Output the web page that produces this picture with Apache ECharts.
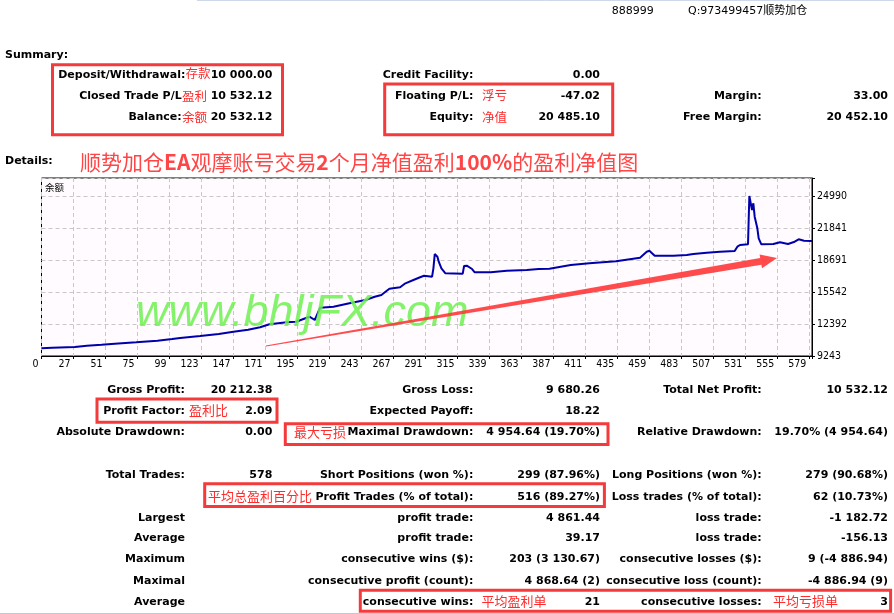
<!DOCTYPE html>
<html><head><meta charset="utf-8">
<script src="https://cdn.jsdelivr.net/npm/echarts@6/dist/echarts.min.js"></script>
<style>html,body{margin:0;padding:0;background:#fff;} #c{width:894px;height:614px;}</style>
</head><body><div id="c"></div>
<script>
// ---- chart data ----
const tradeNo = [3, 11, 28, 37, 48, 58, 74, 90, 101, 107, 122, 136, 147, 158, 167, 174, 187, 194, 204, 208,
  212, 222, 234, 246, 253, 258, 262, 264, 272, 276, 282, 287, 290, 296, 297, 298, 300, 301, 303, 306,
  319, 320, 322, 326, 328, 340, 352, 367, 376, 384, 400, 414, 434, 452, 457, 459, 463, 477, 487, 492,
  502, 512, 523, 525, 527, 533, 534, 535, 536, 537, 538, 540, 541, 543, 552, 557, 563, 568, 571, 575, 581];
const equity = [10000, 10060, 10129, 10257, 10355, 10454, 10591, 10749, 10916, 11015, 11211, 11408, 11635, 11831, 12068, 12363, 12560, 12619, 13111, 12786,
  13997, 14095, 14430, 14755, 15079, 15247, 15670, 15867, 16004, 16398, 16723, 16989, 17146, 17048, 17874, 19282, 19016, 18524, 17874, 17382,
  17343, 18101, 18130, 17805, 17481, 17481, 17638, 17707, 17805, 17835, 18199, 18366, 18563, 18918, 19508, 19607, 19115, 19115, 19184, 19282,
  19410, 19508, 19577, 20000, 20168, 20237, 24990, 24800, 23613, 24271, 22953, 21811, 20827, 20237, 20266, 20434, 20266, 20492, 20729, 20591, 20561];
const xTickLabels = ['0','27','51','75','99','123','147','171','195','219','243','267','291','315','339','363','387','411','435','459','483','507','531','555','579'];
const yTickLabels = ['9243','12392','15542','18691','21841','24990'];

// ---- report texts ----
const headerTexts = ['888999', 'Q:973499457顺势加仓'];
const summaryRows = [
  ['Deposit/Withdrawal:', '10 000.00', 'Credit Facility:', '0.00', '', ''],
  ['Closed Trade P/L', '10 532.12', 'Floating P/L:', '-47.02', 'Margin:', '33.00'],
  ['Balance:', '20 532.12', 'Equity:', '20 485.10', 'Free Margin:', '20 452.10']
];
const statsRows = [
  ['Gross Profit:', '20 212.38', 'Gross Loss:', '9 680.26', 'Total Net Profit:', '10 532.12'],
  ['Profit Factor:', '2.09', 'Expected Payoff:', '18.22', '', ''],
  ['Absolute Drawdown:', '0.00', 'Maximal Drawdown:', '4 954.64 (19.70%)', 'Relative Drawdown:', '19.70% (4 954.64)'],
  ['Total Trades:', '578', 'Short Positions (won %):', '299 (87.96%)', 'Long Positions (won %):', '279 (90.68%)'],
  ['', '', 'Profit Trades (% of total):', '516 (89.27%)', 'Loss trades (% of total):', '62 (10.73%)'],
  ['Largest', '', 'profit trade:', '4 861.44', 'loss trade:', '-1 182.72'],
  ['Average', '', 'profit trade:', '39.17', 'loss trade:', '-156.13'],
  ['Maximum', '', 'consecutive wins ($):', '203 (3 130.67)', 'consecutive losses ($):', '9 (-4 886.94)'],
  ['Maximal', '', 'consecutive profit (count):', '4 868.64 (2)', 'consecutive loss (count):', '-4 886.94 (9)'],
  ['Average', '', 'consecutive wins:', '21', 'consecutive losses:', '3']
];
const redNotes = [
  ['存款', 185.5, 73, 12.5], ['盈利', 182, 96, 12.5], ['余额', 182, 117, 12.5],
  ['浮亏', 482, 95.5, 12.5], ['净值', 482, 117, 12.5],
  ['盈利比', 189, 410.5, 13], ['最大亏损', 294, 432, 13], ['平均总盈利百分比', 208, 496.5, 13],
  ['平均盈利单', 481.5, 601.5, 13], ['平均亏损单', 773, 601.5, 13]
];

// ---- layout ----
const summaryY = [75, 96.5, 117.3];
const statsY = [390.3, 411.3, 432.3, 475, 496.7, 517.7, 538.3, 559.3, 580.7, 601.7];
const colX = [185, 272.3, 473.3, 600, 761.7, 888];
const BOLD = 'bold 11px "DejaVu Sans", "Noto Sans CJK SC"';
const NORMAL = '11px "DejaVu Sans", "Noto Sans CJK SC"';

function txt(x, y, s, align, font, fill, z) {
  return { type: 'text', z: z || 20, silent: true,
    style: { x: x, y: y, text: s, font: font || BOLD, fill: fill || '#000',
      align: align || 'left', textAlign: align || 'left', verticalAlign: 'middle', textVerticalAlign: 'middle' } };
}
function box(x, y, w, h) {
  return { type: 'rect', z: 25, silent: true, shape: { x: x, y: y, width: w, height: h },
    style: { fill: 'none', stroke: '#f43a3a', lineWidth: 3 } };
}

const g = [];
// window edges
g.push({ type: 'line', z: 1, shape: { x1: 197, y1: 0.5, x2: 894, y2: 0.5 }, style: { stroke: '#cdd9ea', lineWidth: 1 } });
g.push({ type: 'line', z: 1, shape: { x1: 0, y1: 613.5, x2: 894, y2: 613.5 }, style: { stroke: '#b9c9e2', lineWidth: 1 } });
g.push(txt(611.7, 11, headerTexts[0], 'left', NORMAL));
g.push(txt(688, 11, headerTexts[1], 'left', NORMAL));
g.push(txt(5, 55, 'Summary:', 'left'));
g.push(txt(5, 161, 'Details:', 'left'));
summaryRows.forEach(function (r, i) {
  const y = summaryY[i];
  const lx = i === 0 ? 185.3 : 181.7;
  if (r[0]) g.push(txt(lx, y, r[0], 'right'));
  if (r[1]) g.push(txt(colX[1], y, r[1], 'right'));
  if (r[2]) g.push(txt(colX[2], y, r[2], 'right'));
  if (r[3]) g.push(txt(colX[3], y, r[3], 'right'));
  if (r[4]) g.push(txt(colX[4], y, r[4], 'right'));
  if (r[5]) g.push(txt(colX[5], y, r[5], 'right'));
});
statsRows.forEach(function (r, i) {
  const y = statsY[i];
  r.forEach(function (s, j) { if (s) g.push(txt(colX[j], y, s, 'right')); });
});
redNotes.forEach(function (n) {
  g.push(txt(n[1], n[2], n[0], 'left', n[3] + 'px "Noto Sans CJK SC"', '#ff2b2b'));
});
// big red title
g.push({ type: 'text', z: 20, silent: true, style: {
  x: 80, y: 162.5, text: '顺势加仓{b|EA}观摩账号交易{b|2}个月净值盈利{b|100%}的盈利净值图',
  font: '21px "Noto Sans CJK SC"', fill: '#ff4545',
  align: 'left', textAlign: 'left', verticalAlign: 'middle', textVerticalAlign: 'middle',
  rich: { b: { fontWeight: 'bold', fontSize: 21, fontFamily: 'Noto Sans CJK SC', fill: '#ff4545' } } } });
// red boxes
g.push(box(52.5, 64.7, 230, 70));
g.push(box(384.7, 84, 228, 50.7));
g.push(box(97, 399, 180, 23.3));
g.push(box(285.3, 423.7, 322.7, 20.7));
g.push(box(204.7, 483.7, 399.7, 22.7));
g.push(box(360.3, 590.3, 530.3, 21));
// label inside plot
g.push(txt(45, 187.7, '余额', 'left', '9.5px "Noto Sans CJK SC"', '#000', 30));
// watermark
g.push({ type: 'text', z: 40, silent: true, style: {
  x: 136, y: 313, text: 'www.bhljFX.com', font: 'italic 45px "Liberation Sans", Arial, sans-serif',
  fill: 'rgba(112,240,82,0.85)', align: 'left', textAlign: 'left', verticalAlign: 'middle', textVerticalAlign: 'middle' } });
// red arrow
g.push({ type: 'polygon', z: 45, silent: true, shape: { points: [
  [265.9, 345.4], [760.2, 257.9], [759.6, 254.4], [777, 258], [762, 268.2], [761.4, 264.8], [266.1, 346.6]
] }, style: { fill: 'rgba(255,55,55,0.9)' } });

const chart = echarts.init(document.getElementById('c'), null, { renderer: 'canvas' });
chart.setOption({
  animation: false,
  backgroundColor: '#ffffff',
  grid: { left: 41.5, right: 82, top: 178, bottom: 258, show: true, borderColor: '#000', borderWidth: 1, backgroundColor: '#fffbff' },
  xAxis: {
    type: 'value', min: 3, max: 581, interval: 24,
    axisLine: { show: true, lineStyle: { color: '#000', width: 1 } },
    axisTick: { show: true, length: 3, lineStyle: { color: '#000' } },
    axisLabel: { show: true, align: 'right', padding: [0, 3, 0, 0], margin: 3, color: '#000',
      fontFamily: '"Liberation Sans Narrow", "DejaVu Sans Condensed", sans-serif', fontSize: 10.5,
      formatter: function (v, i) { return xTickLabels[i] !== undefined ? xTickLabels[i] : ''; } },
    splitLine: { show: true, lineStyle: { color: '#c8c8c8', type: [4, 3], width: 1 } }
  },
  yAxis: {
    type: 'value', position: 'right', min: 9243, max: 26762, interval: 3149.4,
    axisLine: { show: true, lineStyle: { color: '#000', width: 1 } },
    axisTick: { show: true, length: 3, lineStyle: { color: '#000' } },
    axisLabel: { show: true, margin: 5, color: '#000',
      fontFamily: '"Liberation Sans Narrow", "DejaVu Sans Condensed", sans-serif', fontSize: 10.5,
      formatter: function (v, i) { return yTickLabels[i] !== undefined ? yTickLabels[i] : ''; } },
    splitLine: { show: true, lineStyle: { color: '#c8c8c8', type: [4, 3], width: 1 } }
  },
  series: [{
    type: 'line', showSymbol: false, z: 5,
    data: tradeNo.map(function (x, i) { return [x, equity[i]]; }),
    lineStyle: { color: '#0000aa', width: 2 }
  }],
  graphic: { elements: g }
});
</script>
</body></html>
